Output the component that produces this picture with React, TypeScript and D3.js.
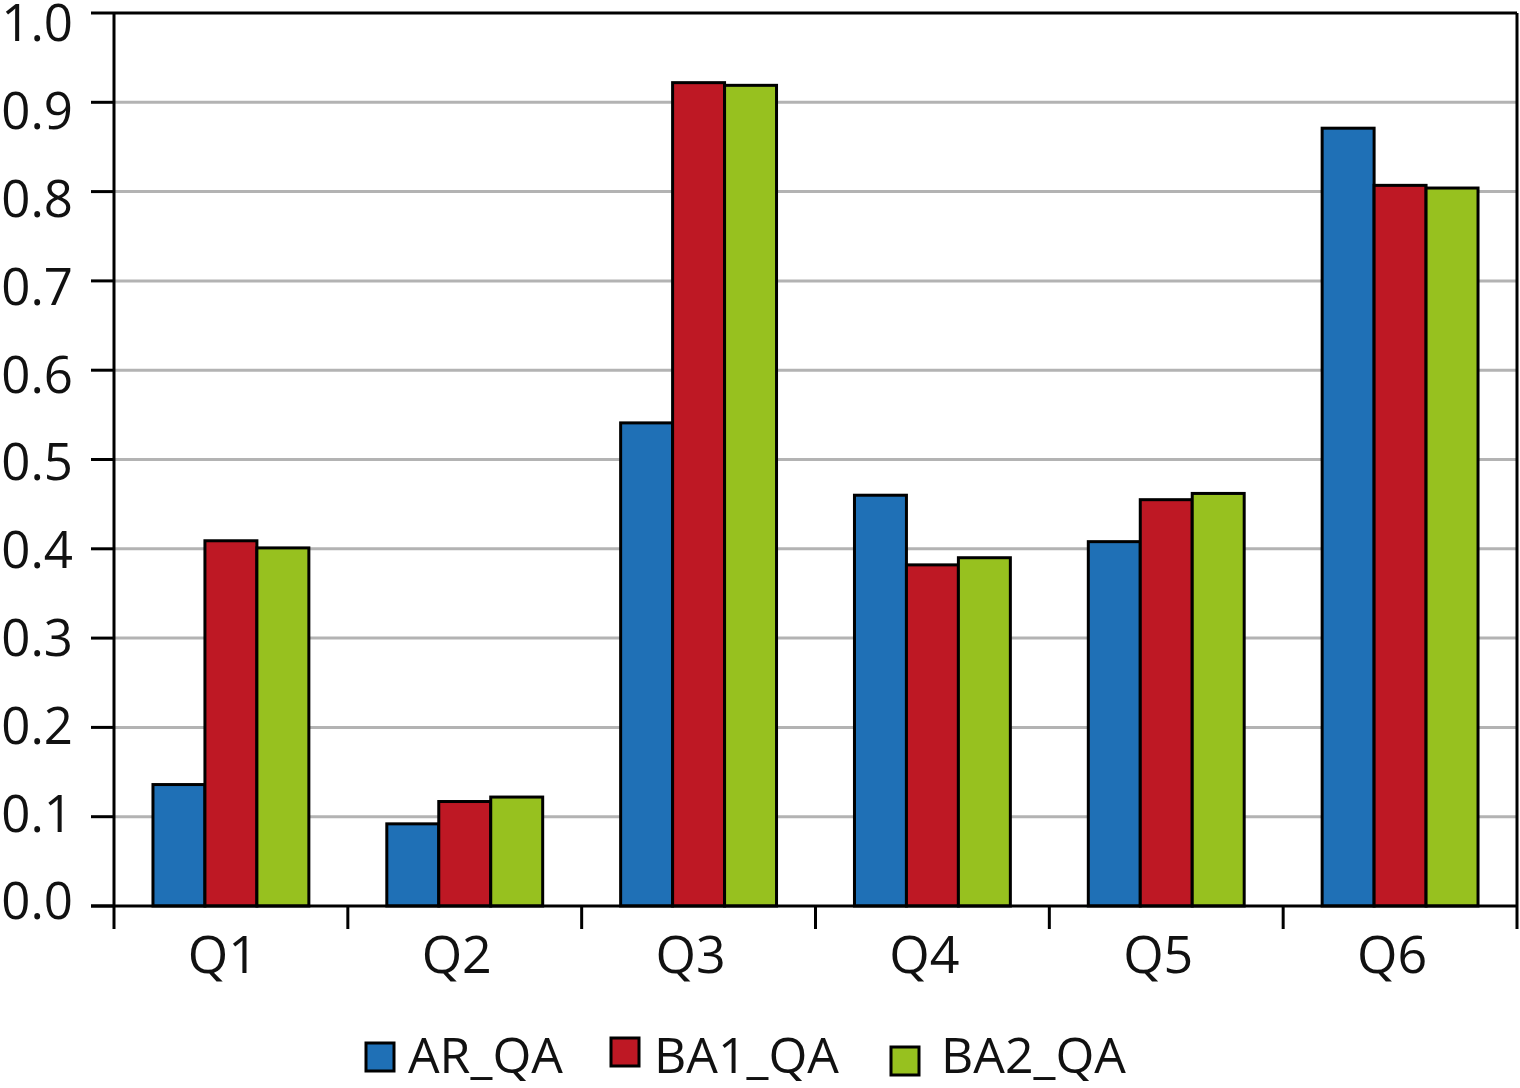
import * as d3 from "d3";

const categories = ["Q1", "Q2", "Q3", "Q4", "Q5", "Q6"];
const seriesNames = ["AR_QA", "BA1_QA", "BA2_QA"];
const arValues = [0.136, 0.092, 0.541, 0.46, 0.408, 0.871];
const ba1Values = [0.409, 0.117, 0.922, 0.382, 0.455, 0.807];
const ba2Values = [0.401, 0.122, 0.919, 0.39, 0.462, 0.804];
const yTicks = [0, 0.1, 0.2, 0.3, 0.4, 0.5, 0.6, 0.7, 0.8, 0.9, 1.0];
const colors = ["#1f70b6", "#be1824", "#97c11f"];

const W = 1520;
const H = 1088;
const left = 114;
const right = 1517;
const top = 13;
const bottom = 906;
const font = "'Open Sans', 'Noto Sans', sans-serif";

export default function App() {
  const series = [arValues, ba1Values, ba2Values];

  const x = d3.scaleBand<string>().domain(categories).range([left, right]).padding(0);
  const xInner = d3
    .scaleBand<number>()
    .domain([0, 1, 2])
    .range([0, x.bandwidth()])
    .paddingInner(0)
    .paddingOuter(0.75);
  const y = d3.scaleLinear().domain([0, 1]).range([bottom, top]);
  // tick labels sit a little inside the gridline span in the original
  const yLabel = d3.scaleLinear().domain([0, 1]).range([901, 23]);

  const boundaries = categories.map((c) => x(c) as number).concat([right]);

  // legend layout: box x, text x, box y offset
  const legendItems = [
    { box: 366, text: 408, dy: 0 },
    { box: 611, text: 654, dy: -5 },
    { box: 891, text: 941, dy: 4 },
  ];

  return (
    <div style={{ position: "absolute", left: 0, top: 0 }}>
      <svg width={W} height={H} style={{ display: "block", background: "#fff" }}>
        {/* grid */}
        {yTicks
          .filter((t) => t > 0 && t < 1)
          .map((t) => (
            <line
              key={"g" + t}
              x1={left}
              x2={right}
              y1={y(t)}
              y2={y(t)}
              stroke="#b3b3b3"
              strokeWidth={3}
            />
          ))}

        {/* bars */}
        {categories.map((c, ci) =>
          series.map((vals, si) => (
            <rect
              key={c + si}
              x={(x(c) as number) + (xInner(si) as number)}
              y={y(vals[ci])}
              width={xInner.bandwidth()}
              height={bottom - y(vals[ci])}
              fill={colors[si]}
              stroke="#000"
              strokeWidth={3}
            />
          ))
        )}

        {/* frame */}
        <line x1={left} x2={left} y1={top} y2={bottom} stroke="#000" strokeWidth={3} />
        <line x1={right} x2={right} y1={top} y2={bottom} stroke="#000" strokeWidth={3} />
        <line x1={left} x2={right} y1={top} y2={top} stroke="#000" strokeWidth={3} />
        <line x1={left - 23} x2={right} y1={bottom} y2={bottom} stroke="#000" strokeWidth={3} />

        {/* y ticks */}
        {yTicks.map((t) => (
          <g key={"y" + t}>
            <line x1={left - 23} x2={left} y1={y(t)} y2={y(t)} stroke="#000" strokeWidth={3} />
            <text
              x={73}
              y={yLabel(t)}
              dy="0.36em"
              textAnchor="end"
              fontFamily={font}
              fontSize={51}
              fill="#111"
            >
              {t.toFixed(1)}
            </text>
          </g>
        ))}

        {/* x ticks */}
        {boundaries.map((b, i) => (
          <line key={"xt" + i} x1={b} x2={b} y1={bottom} y2={bottom + 23} stroke="#000" strokeWidth={3} />
        ))}
        {categories.map((c) => (
          <text
            key={"xl" + c}
            x={(x(c) as number) + x.bandwidth() / 2 - 8}
            y={973}
            textAnchor="middle"
            fontFamily={font}
            fontSize={52}
            fill="#111"
          >
            {c}
          </text>
        ))}

        {/* legend */}
        {seriesNames.map((name, i) => (
          <g key={"l" + name}>
            <rect
              x={legendItems[i].box}
              y={1043 + legendItems[i].dy}
              width={28}
              height={28}
              fill={colors[i]}
              stroke="#000"
              strokeWidth={3}
            />
            <text
              x={legendItems[i].text}
              y={1073}
              fontFamily={font}
              fontSize={50}
              fill="#111"
            >
              {name}
            </text>
          </g>
        ))}
      </svg>
    </div>
  );
}
